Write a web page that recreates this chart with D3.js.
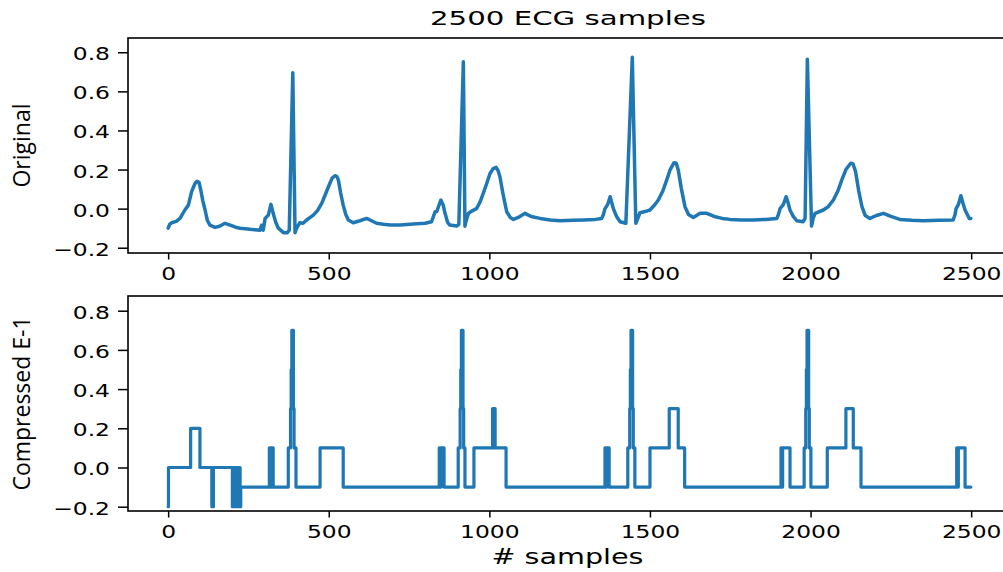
<!DOCTYPE html>
<html>
<head>
<meta charset="utf-8">
<script src="https://cdn.jsdelivr.net/npm/d3@7"></script>
<style>
  body { margin: 0; background: #fff; }
  svg { display: block; }
</style>
</head>
<body>
<div id="chart"></div>
<script>
// original ECG trace (sample index, value)
const origX = [0, 5, 11, 25, 37, 52, 63, 73, 84, 90, 96, 101, 108, 115, 122, 130, 146, 160, 177, 193, 210, 224, 240, 255, 270, 286, 291, 296, 302, 312, 320, 327, 335, 343, 359, 371, 377, 388, 395, 400, 410, 420, 431, 452, 465, 478, 490, 499, 510, 519, 525, 530, 537, 545, 553, 561, 576, 597, 618, 633, 649, 670, 691, 722, 763, 800, 820, 831, 836, 849, 856, 862, 870, 877, 898, 905, 919, 924, 928, 935, 948, 960, 970, 981, 992, 1002, 1012, 1021, 1027, 1033, 1043, 1054, 1065, 1075, 1090, 1111, 1130, 1158, 1190, 1220, 1260, 1293, 1330, 1350, 1355, 1360, 1368, 1376, 1381, 1386, 1396, 1407, 1425, 1445, 1456, 1469, 1485, 1500, 1515, 1526, 1540, 1552, 1563, 1575, 1582, 1588, 1598, 1609, 1620, 1635, 1656, 1677, 1700, 1725, 1749, 1785, 1822, 1860, 1895, 1900, 1905, 1915, 1924, 1930, 1936, 1946, 1957, 1977, 1983, 1990, 2003, 2008, 2014, 2040, 2055, 2071, 2085, 2097, 2110, 2125, 2132, 2140, 2150, 2160, 2170, 2185, 2205, 2227, 2250, 2278, 2315, 2351, 2400, 2444, 2450, 2453, 2460, 2468, 2474, 2481, 2494, 2499];
const origY = [-0.10, -0.08, -0.072, -0.065, -0.05, -0.007, 0.018, 0.087, 0.13, 0.14, 0.135, 0.10, 0.04, -0.007, -0.06, -0.084, -0.096, -0.09, -0.075, -0.084, -0.095, -0.10, -0.103, -0.106, -0.108, -0.11, -0.085, -0.11, -0.05, -0.033, 0.022, -0.024, -0.07, -0.10, -0.123, -0.123, -0.11, 0.695, -0.123, -0.10, -0.072, -0.075, -0.058, -0.033, -0.01, 0.027, 0.075, 0.112, 0.155, 0.168, 0.165, 0.146, 0.08, 0.018, -0.03, -0.058, -0.072, -0.062, -0.05, -0.062, -0.075, -0.08, -0.084, -0.084, -0.079, -0.075, -0.067, -0.016, -0.016, 0.044, 0.02, -0.024, -0.07, -0.084, -0.089, -0.08, 0.752, -0.09, -0.06, -0.024, -0.01, 0.0, 0.03, 0.078, 0.13, 0.18, 0.205, 0.211, 0.195, 0.163, 0.07, -0.016, -0.045, -0.055, -0.045, -0.024, -0.04, -0.05, -0.058, -0.062, -0.06, -0.058, -0.055, -0.05, -0.03, 0.0, 0.02, 0.061, 0.03, 0.0, -0.04, -0.067, -0.075, 0.774, -0.075, -0.021, -0.015, -0.007, 0.02, 0.044, 0.09, 0.146, 0.2, 0.235, 0.232, 0.198, 0.1, 0.01, -0.03, -0.045, -0.024, -0.024, -0.04, -0.05, -0.055, -0.058, -0.058, -0.055, -0.05, -0.03, 0.0, 0.02, 0.061, 0.03, -0.007, -0.04, -0.062, -0.067, -0.05, 0.764, -0.089, -0.05, -0.024, -0.007, 0.01, 0.044, 0.09, 0.146, 0.2, 0.232, 0.23, 0.19, 0.09, 0.01, -0.035, -0.05, -0.035, -0.024, -0.04, -0.055, -0.06, -0.062, -0.06, -0.058, -0.03, 0.0, 0.02, 0.066, 0.03, -0.007, -0.05, -0.05];

// compressed signal, as runs: value holds from runStart until the next start
const runStart = [0, 1, 70, 99, 136, 141, 200, 203, 206, 209, 212, 215, 218, 221, 224, 226, 315, 318, 320, 327, 374, 381, 383, 385, 390, 392, 398, 473, 545, 844, 848, 850, 859, 903, 909, 911, 913, 918, 920, 924, 952, 1010, 1012, 1013, 1018, 1052, 1360, 1363, 1365, 1373, 1431, 1437, 1439, 1441, 1446, 1448, 1453, 1500, 1560, 1588, 1608, 1908, 1911, 1913, 1936, 1980, 1985, 1987, 1989, 1994, 1996, 2001, 2052, 2110, 2133, 2157, 2455, 2458, 2460, 2481, 2499];
const runValue = [-0.2, 0, 0.2, 0, -0.2, 0, -0.2, 0, -0.2, 0, -0.2, 0, -0.2, 0, -0.2, -0.1, 0.1, -0.1, 0.1, -0.1, 0.1, 0.3, 0.5, 0.7, 0.3, 0.1, -0.1, 0.1, -0.1, 0.1, -0.1, 0.1, -0.1, 0.1, 0.3, 0.5, 0.7, 0.3, 0.1, -0.1, 0.1, 0.3, 0.1, 0.3, 0.1, -0.1, 0.1, -0.1, 0.1, -0.1, 0.1, 0.3, 0.5, 0.7, 0.3, 0.1, -0.1, 0.1, 0.3, 0.1, -0.1, 0.1, -0.1, 0.1, -0.1, 0.1, 0.3, 0.5, 0.7, 0.3, 0.1, -0.1, 0.1, 0.3, 0.1, -0.1, 0.1, -0.1, 0.1, -0.1, -0.1];

const xTicks = [0, 500, 1000, 1500, 2000, 2500];
const yTicks = [-0.2, 0.0, 0.2, 0.4, 0.6, 0.8];

const width = 1003;
const height = 572;
const blue = "#1f77b4";

const svg = d3
  .select("#chart")
  .append("svg")
  .attr("width", width)
  .attr("height", height);

const xScale = d3.scaleLinear().domain([-125, 2624]).range([128, 1011]);

const panels = [
  { top: 38, bottom: 253, domain: [-0.227, 0.873], label: "Original" },
  { top: 296, bottom: 511, domain: [-0.222, 0.875], label: "Compressed E-1" },
];

const fmt = d3.format(".1f");

panels.forEach((p, i) => {
  const yScale = d3.scaleLinear().domain(p.domain).range([p.bottom, p.top]);
  const g = svg.append("g");

  // y axis
  const yAxis = g
    .append("g")
    .attr("transform", `translate(${xScale.range()[0]},0)`)
    .call(d3.axisLeft(yScale).tickValues(yTicks).tickFormat(fmt).tickSize(10));
  yAxis.select(".domain").remove();
  yAxis.selectAll("line").attr("stroke", "#000").attr("stroke-width", 1.5);
  yAxis
    .selectAll("text")
    .attr("x", 0)
    .attr("dy", null)
    .attr("font-family", "DejaVu Sans")
    .attr("font-size", 18)
    .attr("fill", "#000")
    .attr("transform", "translate(-18,7.5) scale(1.3,1)");

  // x axis
  const xAxis = g
    .append("g")
    .attr("transform", `translate(0,${p.bottom})`)
    .call(d3.axisBottom(xScale).tickValues(xTicks).tickFormat(d3.format("d")).tickSize(6.5));
  xAxis.select(".domain").remove();
  xAxis.selectAll("line").attr("stroke", "#000").attr("stroke-width", 1.5);
  xAxis
    .selectAll("text")
    .attr("y", 0)
    .attr("dy", null)
    .attr("font-family", "DejaVu Sans")
    .attr("font-size", 18)
    .attr("fill", "#000")
    .attr("transform", "translate(0,27) scale(1.3,1)");

  // data line
  let pts, line;
  if (i === 0) {
    pts = origX.map((x, k) => [x, origY[k]]);
    line = d3.line().x((d) => xScale(d[0])).y((d) => yScale(d[1]));
  } else {
    pts = runStart.map((x, k) => [x, runValue[k]]);
    line = d3
      .line()
      .x((d) => xScale(d[0]))
      .y((d) => yScale(d[1]))
      .curve(d3.curveStepAfter);
  }
  g.append("path")
    .datum(pts)
    .attr("d", line)
    .attr("fill", "none")
    .attr("stroke", blue)
    .attr("stroke-width", i === 0 ? 3.5 : 3.2)
    .attr("stroke-linejoin", "round")
    .attr("stroke-linecap", "round");

  // frame
  g.append("rect")
    .attr("x", xScale.range()[0])
    .attr("y", p.top)
    .attr("width", xScale.range()[1] - xScale.range()[0])
    .attr("height", p.bottom - p.top)
    .attr("fill", "none")
    .attr("stroke", "#000")
    .attr("stroke-width", 1.6);

  // y label
  g.append("text")
    .attr("transform", `translate(30.2,${(p.top + p.bottom) / 2}) rotate(-90)`)
    .attr("text-anchor", "middle")
    .attr("font-family", "Open Sans")
    .attr("font-size", 23)
    .attr("fill", "#000")
    .text(p.label);
});

svg
  .append("text")
  .attr("x", 568)
  .attr("y", 25)
  .attr("text-anchor", "middle")
  .attr("font-family", "DejaVu Sans")
  .attr("font-size", 20)
  .attr("textLength", 276)
  .attr("lengthAdjust", "spacingAndGlyphs")
  .attr("fill", "#000")
  .text("2500 ECG samples");

svg
  .append("text")
  .attr("x", 567.5)
  .attr("y", 564)
  .attr("text-anchor", "middle")
  .attr("font-family", "DejaVu Sans")
  .attr("font-size", 22)
  .attr("textLength", 152)
  .attr("lengthAdjust", "spacingAndGlyphs")
  .attr("fill", "#000")
  .text("# samples");
</script>
</body>
</html>
